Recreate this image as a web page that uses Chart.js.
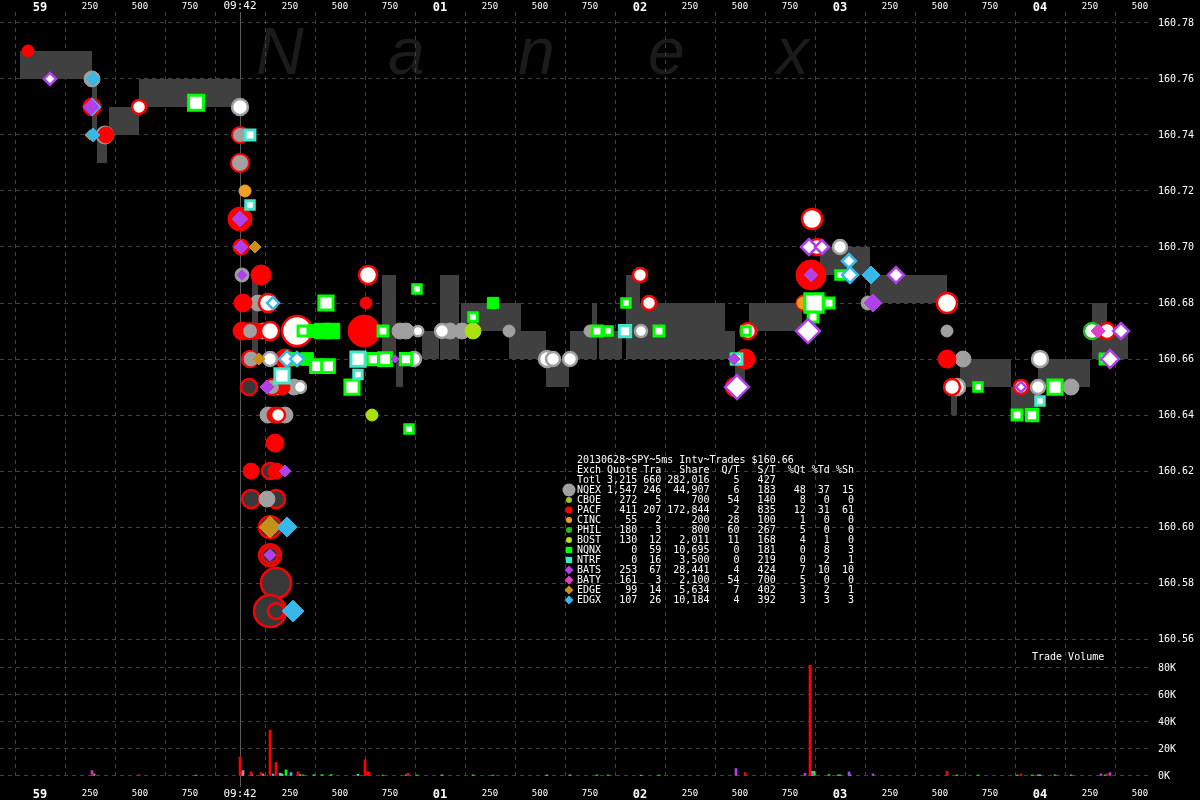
<!DOCTYPE html>
<html>
<head>
<meta charset="utf-8">
<script src="https://cdn.jsdelivr.net/npm/chart.js@4.4.1/dist/chart.umd.min.js"></script>
<style>
  html, body { margin: 0; padding: 0; background: #000; }
</style>
</head>
<body>
<canvas id="graph" width="1200" height="800"></canvas>
<script>
/* globals Chart:false */

// times are ms from 09:42:00.000, prices in $
const timeTicks = [-1000, -750, -500, -250, 0, 250, 500, 750, 1000, 1250, 1500, 1750,
    2000, 2250, 2500, 2750, 3000, 3250, 3500, 3750, 4000, 4250, 4500];
const secLabels = { '-1000': '59', '0': '09:42', '1000': '01', '2000': '02', '3000': '03', '4000': '04' };
const priceTicks = [160.56, 160.58, 160.60, 160.62, 160.64, 160.66, 160.68, 160.70, 160.72, 160.74, 160.76, 160.78];
const volTicks = [0, 20000, 40000, 60000, 80000];

// NBBO spread (gray blocks)
const nbboStart = [-1100, -740, -715, -655, -505, 60, 710, 780, 910, 1000, 1105, 1345, 1405, 1530, 1650,
    1760, 1795, 1930, 2000, 2425, 2475, 2545, 2900, 3150, 3555, 3600, 3855, 3990, 4260, 4335];
const nbboEnd = [-740, -715, -665, -505, 5, 90, 780, 815, 995, 1095, 1345, 1405, 1530, 1645, 1760,
    1785, 1910, 2000, 2425, 2475, 2525, 2810, 3150, 3535, 3585, 3855, 3990, 4250, 4335, 4440];
const nbboBid = [160.76, 160.74, 160.73, 160.74, 160.75, 160.66, 160.66, 160.65, 160.66, 160.66, 160.67, 160.66, 160.66, 160.65, 160.66,
    160.66, 160.66, 160.66, 160.66, 160.66, 160.65, 160.67, 160.69, 160.68, 160.64, 160.65, 160.64, 160.65, 160.66, 160.66];
const nbboAsk = [160.77, 160.76, 160.74, 160.75, 160.76, 160.69, 160.69, 160.66, 160.67, 160.69, 160.68, 160.68, 160.67, 160.66, 160.67,
    160.68, 160.67, 160.69, 160.68, 160.67, 160.66, 160.68, 160.70, 160.69, 160.65, 160.66, 160.65, 160.66, 160.68, 160.67];

// [time, price, shares]
const pacfOut = [[50, 160.66, 1100], [45, 160.65, 1100], [150, 160.62, 1100], [55, 160.61, 1600], [180, 160.61, 1600],
    [150, 160.60, 2800], [150, 160.59, 2800], [150, 160.59, 1100], [180, 160.58, 6400], [150, 160.57, 7500], [180, 160.57, 1100]];
const nqexQuotes = [[-740, 160.76, 1100], [-675, 160.74, 1600], [10, 160.69, 700], [90, 160.68, 1100], [115, 160.67, 1100],
    [55, 160.66, 700], [190, 160.65, 1100], [270, 160.65, 1100], [140, 160.64, 1100], [225, 160.64, 1100], [135, 160.61, 1100],
    [800, 160.67, 1100], [830, 160.67, 1100], [1050, 160.67, 1100], [1110, 160.67, 1100], [1345, 160.67, 400],
    [1750, 160.67, 400], [2550, 160.67, 700], [3140, 160.68, 700], [3535, 160.67, 400], [3615, 160.66, 1100], [4155, 160.65, 1100]];
const pacfQuotes = [[-1060, 160.77, 400], [-740, 160.75, 1600], [-670, 160.74, 1100], [0, 160.71, 3600], [5, 160.70, 1100],
    [105, 160.69, 2200], [15, 160.68, 1600], [10, 160.67, 1600], [85, 160.67, 1100], [225, 160.66, 2200], [210, 160.65, 1100],
    [175, 160.64, 1100], [175, 160.63, 1600], [55, 160.62, 1100], [180, 160.62, 1100], [620, 160.67, 7500], [630, 160.68, 400],
    [2820, 160.68, 1100], [2855, 160.69, 6400], [2525, 160.66, 2200], [3535, 160.66, 1600]];
const nqexAtPacf = [[0, 160.74, 1100], [0, 160.73, 1600], [50, 160.67, 1100], [160, 160.65, 1100]];
const nqexTrades = [[0, 160.75, 1100], [150, 160.66, 700], [300, 160.65, 400], [890, 160.67, 200], [1010, 160.67, 700],
    [870, 160.66, 700], [1535, 160.66, 1100], [1565, 160.66, 700], [1650, 160.66, 700], [2005, 160.67, 400],
    [3000, 160.70, 700], [3585, 160.65, 1100], [3990, 160.65, 700], [4000, 160.66, 1100]];
const pacfTrades = [[-505, 160.75, 700], [140, 160.68, 1600], [150, 160.67, 1600], [285, 160.67, 6400], [640, 160.69, 1600],
    [190, 160.64, 700], [2000, 160.69, 700], [2045, 160.68, 700], [2475, 160.65, 1600], [2540, 160.67, 1100],
    [2860, 160.71, 2200], [2885, 160.70, 1100], [3535, 160.68, 2200], [3560, 160.65, 1100], [3905, 160.65, 700], [4335, 160.67, 1100]];
const bostQuotes = [[1165, 160.67, 1100], [660, 160.64, 400]];
const cincQuotes = [[25, 160.72, 400], [1775, 160.67, 200], [2815, 160.68, 400]];
const philTrades = [[4260, 160.67, 1100]];
const edgeQuotes = [[-750, 160.74, 200], [75, 160.70, 400], [95, 160.66, 400], [150, 160.60, 2800]];
const nqnxSolid = [[370, 160.67, 1600], [410, 160.67, 2800], [460, 160.67, 2800], [335, 160.66, 1600], [1265, 160.68, 1100]];
const nqnxTrades = [[-220, 160.7515, 2500], [430, 160.68, 2200], [315, 160.67, 700], [715, 160.67, 700], [885, 160.685, 400],
    [1165, 160.675, 400], [1930, 160.68, 400], [1785, 160.67, 700], [1840, 160.67, 400], [2095, 160.67, 700],
    [260, 160.66, 1100], [385, 160.6575, 1600], [440, 160.6575, 1600], [665, 160.66, 1100], [725, 160.66, 1600],
    [830, 160.66, 1100], [560, 160.65, 2200], [845, 160.635, 400], [2480, 160.66, 700], [2530, 160.67, 400],
    [2870, 160.68, 4400], [2945, 160.68, 700], [2865, 160.675, 700], [3000, 160.69, 400], [3690, 160.65, 400],
    [3885, 160.64, 700], [3960, 160.64, 1100], [4075, 160.65, 2200], [4325, 160.66, 700]];
const ntrfTrades = [[50, 160.74, 700], [50, 160.715, 400], [210, 160.654, 2200], [590, 160.66, 2200], [590, 160.6545, 400],
    [1925, 160.67, 1100], [2485, 160.66, 700], [4000, 160.645, 400]];
const edgxQuotes = [[-735, 160.76, 700], [-740, 160.75, 1600], [-735, 160.74, 700], [235, 160.60, 2200], [265, 160.57, 2800],
    [3155, 160.69, 1600]];
const batsQuotes = [[-745, 160.75, 1100], [0, 160.71, 1100], [5, 160.70, 700], [10, 160.69, 200], [135, 160.65, 700],
    [225, 160.62, 400], [150, 160.59, 400], [775, 160.66, 50], [2470, 160.66, 400], [2830, 160.67, 2200],
    [2855, 160.69, 700], [3165, 160.68, 1600]];
const batyQuotes = [[4290, 160.67, 700]];
const batsTrades = [[-950, 160.76, 400], [2485, 160.65, 3600], [2840, 160.67, 3600], [2845, 160.70, 1100], [2910, 160.70, 700],
    [3280, 160.69, 1100], [3905, 160.65, 200], [4350, 160.66, 1600], [4405, 160.67, 1100]];
const edgxTrades = [[165, 160.68, 400], [235, 160.66, 1100], [285, 160.66, 700], [3045, 160.695, 700], [3050, 160.69, 1100]];

// trade volume [time, shares]
const pacfVol = [[-740, 1500], [-505, 1000], [0, 14000], [55, 3000], [105, 2500], [150, 34000], [180, 10000], [290, 3000],
    [625, 12000], [635, 3000], [645, 3000], [840, 2000], [2525, 2500], [2850, 82000], [3535, 3500], [3905, 1500], [4335, 1500]];
const batsVol = [[-740, 4000], [5, 2500], [2480, 5500], [2825, 2000], [3045, 3000], [3165, 1500], [4350, 2500]];
const nqexVol = [[-730, 1500], [15, 4000], [60, 1000], [115, 1500], [200, 2000], [300, 1000], [830, 800], [1010, 800],
    [1535, 800], [1650, 800], [2005, 600], [3000, 800], [3585, 800], [3990, 800], [4155, 800]];
const nqnxVol = [[-220, 600], [230, 4500], [315, 800], [370, 1000], [410, 1000], [455, 1000], [715, 700], [885, 700],
    [1165, 800], [1265, 600], [1785, 800], [1840, 700], [2095, 700], [2870, 3500], [2945, 1000], [2990, 800],
    [3690, 700], [3885, 700], [3960, 800], [4075, 800], [4325, 800]];
const edgxVol = [[165, 1500], [255, 2500], [2860, 3500], [3050, 1000]];
const batyVol = [[2860, 2000], [4305, 1500]];
const ntrfVol = [[210, 1500], [590, 1200], [4000, 800]];

// exchange summary table
const exchNames = ['NQEX', 'CBOE', 'PACF', 'CINC', 'PHIL', 'BOST', 'NQNX', 'NTRF', 'BATS', 'BATY', 'EDGE', 'EDGX'];
const exchQuotes = [1547, 272, 411, 55, 180, 130, 0, 0, 253, 161, 99, 107];
const exchTrades = [246, 5, 207, 2, 3, 12, 59, 16, 67, 3, 14, 26];
const exchShares = [44907, 700, 172844, 200, 800, 2011, 10695, 3500, 28441, 2100, 5634, 10184];
const exchQT = [6, 54, 2, 28, 60, 11, 0, 0, 4, 54, 7, 4];
const exchST = [183, 140, 835, 100, 267, 168, 181, 219, 424, 700, 402, 392];
const exchPctQt = [48, 8, 12, 1, 5, 4, 0, 0, 7, 5, 3, 3];
const exchPctTd = [37, 0, 31, 0, 0, 1, 8, 2, 10, 0, 2, 3];
const exchPctSh = [15, 0, 61, 0, 0, 0, 3, 1, 10, 0, 1, 3];
const total = { quotes: 3215, trades: 660, shares: 282016, qt: 5, st: 427 };

(function () {
    'use strict'

    const mono = '"DejaVu Sans Mono", "Liberation Mono", monospace';
    const grid = '#404040';
    const radius = s => 3 + 1.5 * Math.sqrt(s / 100);

    const legendMarks = {
        NQEX: ['circle', '#a0a0a0', 6.5], CBOE: ['circle', '#a8c020', 3], PACF: ['circle', '#ff0000', 3.5],
        CINC: ['circle', '#f0a020', 3], PHIL: ['circle', '#20c020', 3], BOST: ['circle', '#b8e020', 3],
        NQNX: ['rect', '#00ff00', 4.5], NTRF: ['rect', '#40e8c8', 4.5], BATS: ['rectRot', '#b040e8', 4.5],
        BATY: ['rectRot', '#e040c8', 4.5], EDGE: ['rectRot', '#c8901a', 4.5], EDGX: ['rectRot', '#38b8e8', 4.5]
    };

    // draw order: first = bottom
    const series = [
        { data: pacfOut, shape: 'circle', fill: '#383838', edge: '#ff0000', bw: 2.5 },
        { data: nqexQuotes, shape: 'circle', fill: '#a0a0a0', edge: '#a0a0a0', bw: 1 },
        { data: pacfQuotes, shape: 'circle', fill: '#ff0000', edge: '#ff0000', bw: 1 },
        { data: nqexAtPacf, shape: 'circle', fill: '#a0a0a0', edge: '#ff0000', bw: 2 },
        { data: nqexTrades, shape: 'circle', fill: '#ffffff', edge: '#a0a0a0', bw: 2.5 },
        { data: pacfTrades, shape: 'circle', fill: '#ffffff', edge: '#ff0000', bw: 2.5 },
        { data: bostQuotes, shape: 'circle', fill: '#a8e010', edge: '#a8e010', bw: 1 },
        { data: cincQuotes, shape: 'circle', fill: '#f0a020', edge: '#f0a020', bw: 1 },
        { data: philTrades, shape: 'circle', fill: '#ffffff', edge: '#20c020', bw: 2.5 },
        { data: edgeQuotes, shape: 'rectRot', fill: '#c8901a', edge: '#c8901a', bw: 1 },
        { data: nqnxSolid, shape: 'rect', fill: '#00ff00', edge: '#00ff00', bw: 1 },
        { data: nqnxTrades, shape: 'rect', fill: '#ffffff', edge: '#00ff00', bw: 3 },
        { data: ntrfTrades, shape: 'rect', fill: '#ffffff', edge: '#40e8c8', bw: 3 },
        { data: edgxQuotes, shape: 'rectRot', fill: '#38b8e8', edge: '#38b8e8', bw: 1 },
        { data: batsQuotes, shape: 'rectRot', fill: '#b040e8', edge: '#b040e8', bw: 1 },
        { data: batyQuotes, shape: 'rectRot', fill: '#e040c8', edge: '#e040c8', bw: 1 },
        { data: batsTrades, shape: 'rectRot', fill: '#ffffff', edge: '#b040e8', bw: 2.5 },
        { data: edgxTrades, shape: 'rectRot', fill: '#ffffff', edge: '#38b8e8', bw: 2.5 }
    ];

    const volSeries = [
        { data: nqexVol, color: '#a0a0a0' }, { data: nqnxVol, color: '#00ff00' }, { data: ntrfVol, color: '#40e8c8' },
        { data: edgxVol, color: '#38b8e8' }, { data: batyVol, color: '#e040c8' }, { data: batsVol, color: '#b040e8' },
        { data: pacfVol, color: '#ff0000' }
    ];

    // bid / ask step lines, broken where there is no block
    const bidPts = [], askPts = [];
    nbboStart.forEach((t0, i) => {
        const t1 = nbboEnd[i];
        bidPts.push({ x: t0, y: nbboBid[i] }, { x: t1, y: nbboBid[i] });
        askPts.push({ x: t0, y: nbboAsk[i] }, { x: t1, y: nbboAsk[i] });
        const next = nbboStart[i + 1];
        if (next !== undefined && next > t1) {
            bidPts.push({ x: (t1 + next) / 2, y: null });
            askPts.push({ x: (t1 + next) / 2, y: null });
        }
    });

    const datasets = [
        { type: 'line', data: bidPts, stepped: true, borderWidth: 0, pointRadius: 0, fill: false, order: 1000, yAxisID: 'y' },
        { type: 'line', data: askPts, stepped: true, borderWidth: 0, pointRadius: 0, fill: '-1',
          backgroundColor: '#404040', order: 999, yAxisID: 'y' }
    ];
    volSeries.forEach((v, i) => datasets.push({
        type: 'bar', data: v.data.map(d => ({ x: d[0], y: d[1] })), backgroundColor: v.color,
        barThickness: 2, grouped: false, order: 900 - i, yAxisID: 'yv'
    }));
    series.forEach((s, i) => datasets.push({
        type: 'scatter', data: s.data.map(d => ({ x: d[0], y: d[1], s: d[2] })),
        pointStyle: s.shape, backgroundColor: s.fill, borderColor: s.edge, borderWidth: s.bw,
        pointRadius: ctx => radius(ctx.raw ? ctx.raw.s : 100), order: 500 - i, yAxisID: 'y'
    }));

    const timeLabel = v => secLabels[v] !== undefined ? secLabels[v] : String(((v % 1000) + 1000) % 1000);
    // top labels sit tighter, so the larger fonts get a smaller line height there
    const timeFont = top => ctx => {
        const v = ctx.tick ? ctx.tick.value : 1;
        if (v === 0) return { family: mono, size: 11, lineHeight: top ? 1.0 : 1.2 };
        if (v % 1000 === 0) return { family: mono, size: 12, weight: 'bold', lineHeight: top ? 0.75 : 1.2 };
        return { family: mono, size: 9, lineHeight: 1.2 };
    };
    const timeAxis = (position, height, padding, showGrid) => ({
        type: 'linear', position: position, min: -1200, max: 4560, offset: false,
        afterBuildTicks: s => { s.ticks = timeTicks.map(v => ({ value: v })); },
        afterFit: s => { s.height = height; },
        grid: { display: showGrid, color: grid, drawTicks: false },
        border: { display: false, dash: [4, 4] },
        ticks: { color: '#ffffff', padding: padding, autoSkip: false, maxRotation: 0,
                 font: timeFont(position === 'top'), callback: timeLabel }
    });

    const backdrop = {
        id: 'backdrop',
        beforeDraw(chart) {
            const c = chart.ctx;
            c.save();
            c.fillStyle = '#000';
            c.fillRect(0, 0, chart.width, chart.height);
            c.fillStyle = '#1b1b1b';
            c.font = 'italic 66px "Liberation Sans", Arial, sans-serif';
            c.textBaseline = 'alphabetic';
            [['N', 256], ['a', 388], ['n', 518], ['e', 648], ['x', 776]].forEach(l => c.fillText(l[0], l[1], 74));
            c.restore();
        },
        beforeDatasetsDraw(chart) {
            const c = chart.ctx;
            const px = Math.round(chart.scales.x.getPixelForValue(0)) + 0.5;
            c.save();
            c.strokeStyle = '#5a5a5a';
            c.lineWidth = 1;
            c.beginPath();
            c.moveTo(px, chart.chartArea.top);
            c.lineTo(px, chart.chartArea.bottom + 7);
            c.stroke();
            c.restore();
        }
    };

    const fmt = n => n.toLocaleString('en-US');
    const statRow = (name, q, t, s, qt, st, pq, pt, ps) => {
        let r = name.padEnd(4) + ' ' + fmt(q).padStart(5) + ' ' + String(t).padStart(3) + ' ' +
            fmt(s).padStart(7) + String(qt).padStart(5) + String(st).padStart(6);
        if (pq !== undefined) r += String(pq).padStart(5) + String(pt).padStart(4) + String(ps).padStart(4);
        return r;
    };

    const statsTable = {
        id: 'statsTable',
        afterDatasetsDraw(chart) {
            const c = chart.ctx;
            const x0 = 577, y0 = 460, lh = 10;
            c.save();
            c.font = '10px ' + mono;
            c.textBaseline = 'middle';
            c.textAlign = 'left';
            c.fillStyle = '#ffffff';
            c.fillText('20130628~SPY~5ms Intv~Trades $160.66', x0, y0);
            c.fillText('Exch Quote Tra   Share  Q/T   S/T  %Qt %Td %Sh', x0, y0 + lh);
            c.fillText(statRow('Totl', total.quotes, total.trades, total.shares, total.qt, total.st), x0, y0 + 2 * lh);
            exchNames.forEach((n, i) => {
                const y = y0 + (i + 3) * lh;
                const m = legendMarks[n];
                c.fillStyle = m[1];
                Chart.helpers.drawPoint(c, { pointStyle: m[0], rotation: 0, radius: m[2], borderWidth: 0 }, 569, y);
                c.fillStyle = '#ffffff';
                c.fillText(statRow(n, exchQuotes[i], exchTrades[i], exchShares[i], exchQT[i], exchST[i],
                    exchPctQt[i], exchPctTd[i], exchPctSh[i]), x0, y);
            });
            c.fillText('Trade Volume', 1032, 657);
            c.restore();
        }
    };

    new Chart(document.getElementById('graph'), {
        type: 'scatter',
        data: { datasets: datasets },
        options: {
            responsive: false,
            animation: false,
            events: [],
            layout: { padding: 0, autoPadding: false },
            plugins: { legend: { display: false }, tooltip: { enabled: false } },
            scales: {
                y: {
                    type: 'linear', position: 'right', stack: 'main', stackWeight: 633,
                    min: 160.5579, max: 160.7839,
                    afterBuildTicks: s => { s.ticks = priceTicks.map(v => ({ value: v })); },
                    afterFit: s => { s.width = 48; },
                    grid: { color: grid, drawTicks: false },
                    border: { display: false, dash: [4, 4] },
                    ticks: { color: '#ffffff', padding: 6, font: { family: mono, size: 10 }, callback: v => v.toFixed(2) }
                },
                yv: {
                    type: 'linear', position: 'right', stack: 'main', stackWeight: 135,
                    min: -3000, max: 97000,
                    afterBuildTicks: s => { s.ticks = volTicks.map(v => ({ value: v })); },
                    afterFit: s => { s.width = 48; },
                    grid: { color: grid, drawTicks: false },
                    border: { display: false, dash: [4, 4] },
                    ticks: { color: '#ffffff', padding: 6, font: { family: mono, size: 10 }, callback: v => (v / 1000) + 'K' }
                },
                x: timeAxis('bottom', 20, 8, true),
                xt: timeAxis('top', 12, 0, false)
            }
        },
        plugins: [backdrop, statsTable]
    });
})()
</script>
</body>
</html>
